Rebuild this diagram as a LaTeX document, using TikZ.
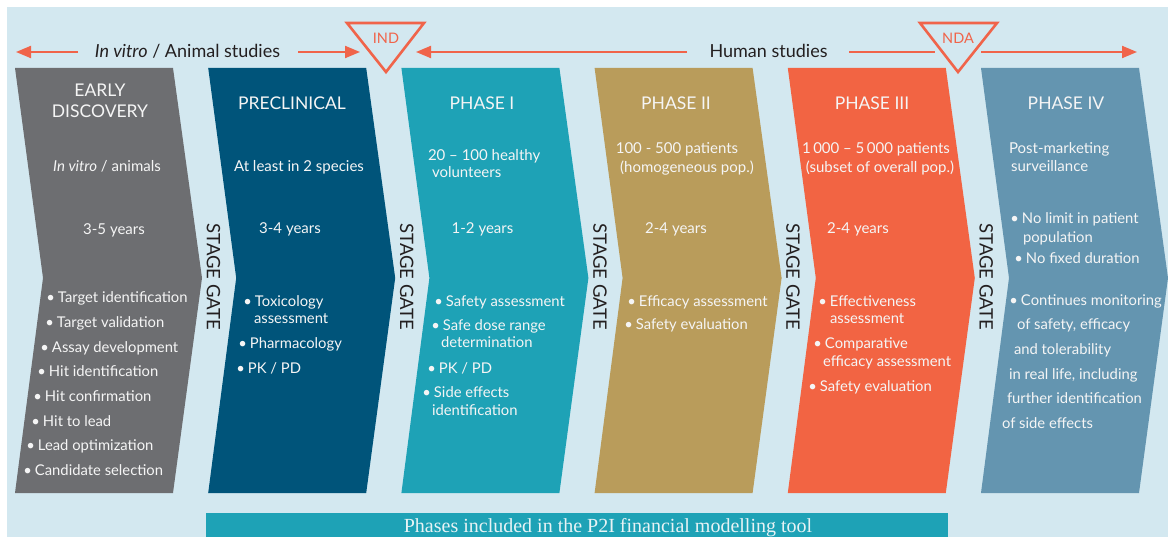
\documentclass[tikz,border=0pt]{standalone}
\usepackage{fontspec}
\setsansfont{Lato}
\setmainfont{Liberation Serif}
\usetikzlibrary{arrows.meta}
\definecolor{bgcol}{HTML}{D3E8F0}
\definecolor{cgray}{HTML}{6D6E71}
\definecolor{cnavy}{HTML}{00547A}
\definecolor{cteal}{HTML}{1EA2B6}
\definecolor{cgold}{HTML}{B99C5B}
\definecolor{corange}{HTML}{F26443}
\definecolor{csteel}{HTML}{6495B0}
\definecolor{salm}{HTML}{F0644A}
\definecolor{txw}{HTML}{F5F5F5}
\definecolor{dark}{HTML}{231F20}
\definecolor{bartx}{HTML}{E8F3F5}
\newcommand\myfs[1]{\fontsize{#1}{#1}\selectfont}
\begin{document}
\begin{tikzpicture}[x=1pt,y=-1pt,
  txt/.style={inner sep=0pt,outer sep=0pt,text height=0.72em,text depth=0pt,yshift=-2pt},
  ttl/.style={txt,font=\sffamily\myfs{17.5},text=txw},
  sub/.style={txt,font=\sffamily\myfs{15},text=txw},
  bul/.style={txt,anchor=west,font=\sffamily\myfs{14.8},text=txw},
  gate/.style={inner sep=0pt,outer sep=0pt,rotate=-90,font=\sffamily\myfs{18.5},text=dark},
  toptxt/.style={txt,font=\sffamily\myfs{18},text=dark},
  tritxt/.style={txt,font=\sffamily\myfs{14.5},text=salm},
  arr/.style={draw=salm,line width=2pt,-{Triangle[length=15pt,width=12pt]}},
  plainline/.style={draw=salm,line width=2pt},
  tri/.style={draw=salm,line width=2.6pt,line join=miter},
]
\useasboundingbox (0,0) rectangle (1168,537);
\fill[white] (0,0) rectangle (1168,537);
\fill[bgcol] (7,7.5) rectangle (1168,537);

% chevrons
\foreach \i/\c in {0/cgray,1/cnavy,2/cteal,3/cgold,4/corange,5/csteel}{
  \pgfmathsetmacro{\xo}{15+193.2*\i}
  \fill[\c] (\xo,68) -- (\xo+158,68) -- (\xo+187,278) -- (\xo+158,493)
     -- (\xo,493) -- (\xo+28,278) -- cycle;
}

% top row
\node[toptxt] (lefttxt) at (187.5,52) {\textit{In vitro} / Animal studies};
\coordinate (l1a) at (78,52); \coordinate (l1b) at (16,52);
\draw[arr] (l1a) -- (l1b);
\coordinate (l2a) at (298,52); \coordinate (l2b) at (360,52);
\draw[arr] (l2a) -- (l2b);
\coordinate (ind1) at (347,23); \coordinate (ind2) at (424,23); \coordinate (ind3) at (386,72);
\draw[tri] (ind1) -- (ind2) -- (ind3) -- cycle;
\node[tritxt] (indtxt) at (386,38) {IND};
\coordinate (h1a) at (687,52); \coordinate (h1b) at (416,52);
\draw[arr] (h1a) -- (h1b);
\node[toptxt] (humtxt) at (768.5,52) {Human studies};
\coordinate (h2a) at (849,52); \coordinate (h2b) at (935,52);
\draw[plainline] (h2a) -- (h2b);
\coordinate (nda1) at (920,23); \coordinate (nda2) at (997,23); \coordinate (nda3) at (958,72);
\draw[tri] (nda1) -- (nda2) -- (nda3) -- cycle;
\node[tritxt] (ndatxt) at (958,38) {NDA};
\coordinate (h3a) at (981,52); \coordinate (h3b) at (1137,52);
\draw[arr] (h3a) -- (h3b);

% stage gates
\foreach \i in {0,...,4}{
  \pgfmathsetmacro{\xg}{213.5+193.2*\i}
  \node[gate] (gate\i) at (\xg,277) {STAGE GATE};
}

% EARLY DISCOVERY
\node[ttl] (t0a) at (100,91) {EARLY};
\node[ttl] (t0b) at (100,112) {DISCOVERY};
\node[sub] (s0) at (107,166) {\textit{In vitro} / animals};
\node[sub] (y0) at (114,229) {3-5 years};
\node[bul] (g1) at (58,297) {\llap{\textbullet\hspace{3pt}}Target identification};
\node[bul] (g2) at (57,322) {\llap{\textbullet\hspace{3pt}}Target validation};
\node[bul] (g3) at (52,347) {\llap{\textbullet\hspace{3pt}}Assay development};
\node[bul] (g4) at (49,371) {\llap{\textbullet\hspace{3pt}}Hit identification};
\node[bul] (g5) at (45,396) {\llap{\textbullet\hspace{3pt}}Hit confirmation};
\node[bul] (g6) at (43,421) {\llap{\textbullet\hspace{3pt}}Hit to lead};
\node[bul] (g7) at (38,445) {\llap{\textbullet\hspace{3pt}}Lead optimization};
\node[bul] (g8) at (35,470) {\llap{\textbullet\hspace{3pt}}Candidate selection};

% PRECLINICAL
\node[ttl] (t1) at (292,104) {PRECLINICAL};
\node[sub] (s1) at (299,166) {At least in 2 species};
\node[sub] (y1) at (290,228) {3-4 years};
\node[bul] (p1) at (255,301) {\llap{\textbullet\hspace{3pt}}Toxicology};
\node[bul] (p1b) at (254,318) {assessment};
\node[bul] (p2) at (250,343) {\llap{\textbullet\hspace{3pt}}Pharmacology};
\node[bul] (p3) at (248,368) {\llap{\textbullet\hspace{3pt}}PK / PD};

% PHASE I
\node[ttl] (t2) at (482,104) {PHASE I};
\node[sub,anchor=west] (s2a) at (428,155) {20 – 100 healthy};
\node[sub,anchor=west] (s2b) at (432,172) {volunteers};
\node[sub] (y2) at (482.5,228) {1-2 years};
\node[bul] (q1) at (446,301) {\llap{\textbullet\hspace{3pt}}Safety assessment};
\node[bul] (q2) at (443,325) {\llap{\textbullet\hspace{3pt}}Safe dose range};
\node[bul] (q2b) at (441,342) {determination};
\node[bul] (q3) at (439,368) {\llap{\textbullet\hspace{3pt}}PK / PD};
\node[bul] (q4) at (434,392) {\llap{\textbullet\hspace{3pt}}Side effects};
\node[bul] (q4b) at (432,410) {identification};

% PHASE II
\node[ttl] (t3) at (676,104) {PHASE II};
\node[sub] (s3a) at (677,148) {100 - 500 patients};
\node[sub] (s3b) at (687,167) {(homogeneous pop.)};
\node[sub] (y3) at (676,228) {2-4 years};
\node[bul] (r1) at (639,301) {\llap{\textbullet\hspace{3pt}}Efficacy assessment};
\node[bul] (r2) at (636,324) {\llap{\textbullet\hspace{3pt}}Safety evaluation};

% PHASE III
\node[ttl] (t4) at (872,104) {PHASE III};
\node[sub] (s4a) at (876,148) {1\,000 – 5\,000 patients};
\node[sub] (s4b) at (880,167) {(subset of overall pop.)};
\node[sub] (y4) at (858,228) {2-4 years};
\node[bul] (u1) at (830,301) {\llap{\textbullet\hspace{3pt}}Effectiveness};
\node[bul] (u1b) at (830,318) {assessment};
\node[bul] (u2) at (825,343) {\llap{\textbullet\hspace{3pt}}Comparative};
\node[bul] (u2b) at (823,361) {efficacy assessment};
\node[bul] (u3) at (820,386) {\llap{\textbullet\hspace{3pt}}Safety evaluation};

% PHASE IV
\node[ttl] (t5) at (1066,104) {PHASE IV};
\node[sub,anchor=west] (s5a) at (1009,148) {Post-marketing};
\node[sub,anchor=west] (s5b) at (1011,166) {surveillance};
\node[bul] (v1) at (1022,218) {\llap{\textbullet\hspace{3pt}}No limit in patient};
\node[bul] (v1b) at (1023,237) {population};
\node[bul] (v2) at (1026,258) {\llap{\textbullet\hspace{3pt}}No fixed duration};
\node[bul] (v3) at (1021,300) {\llap{\textbullet\hspace{3pt}}Continues monitoring};
\node[bul] (v3b) at (1017,324) {of safety, efficacy};
\node[bul] (v3c) at (1014,349) {and tolerability};
\node[bul] (v3d) at (1009,374) {in real life, including};
\node[bul] (v3e) at (1007,398) {further identification};
\node[bul] (v3f) at (1002,423) {of side effects};

% bottom bar
\node[fill=cteal,inner sep=0pt,minimum width=742pt,minimum height=24pt] (bar) at (577,525) {};
\node[anchor=base,inner sep=0pt,font=\rmfamily\myfs{20},text=bartx] (bartxt) at (608,532) {Phases included in the P2I financial modelling tool};
\end{tikzpicture}
\end{document}
